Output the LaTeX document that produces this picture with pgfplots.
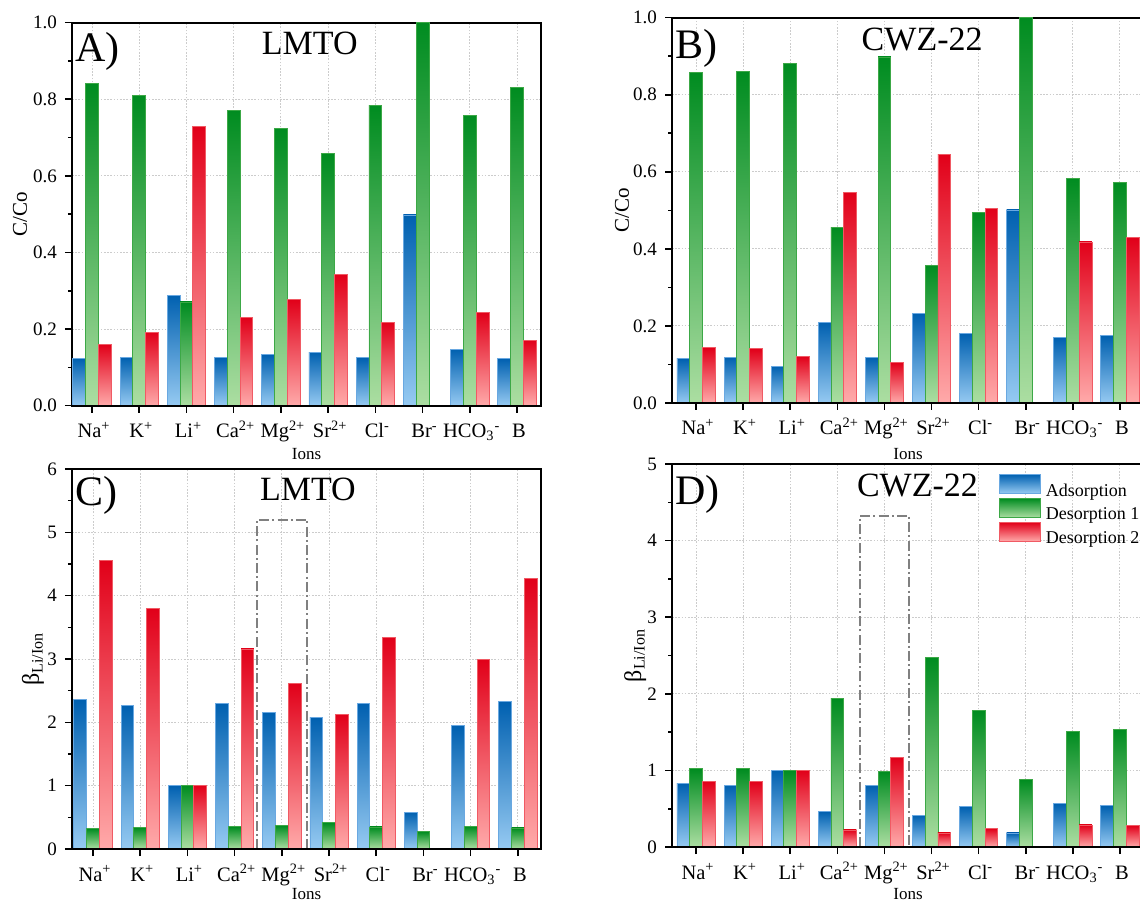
\documentclass[border=0pt]{standalone}
\usepackage{pgfplots}
\pgfplotsset{compat=1.18}
\usepackage{pgfplotstable}
\usepackage{fontspec}
\setmainfont{Liberation Serif}

% bar colours: dark at the top, light at the foot
\definecolor{adsTop}{RGB}{0,96,176}
\definecolor{adsBot}{RGB}{150,202,242}
\definecolor{adsEdge}{RGB}{105,168,225}
\definecolor{dOneTop}{RGB}{0,140,32}
\definecolor{dOneBot}{RGB}{172,222,162}
\definecolor{dOneEdge}{RGB}{60,168,70}
\definecolor{dTwoTop}{RGB}{225,0,25}
\definecolor{dTwoBot}{RGB}{255,170,170}
\definecolor{dTwoEdge}{RGB}{240,90,100}

% C/Co, LMTO
\pgfplotstableread{
x ads des1 des2
0 0.123 0.841 0.160
1 0.127 0.810 0.192
2 0.289 0.271 0.730
3 0.125 0.771 0.230
4 0.134 0.723 0.278
5 0.140 0.659 0.343
6 0.125 0.783 0.218
7 0.498 1.000 nan
8 0.148 0.758 0.243
9 0.123 0.830 0.171
}\tabA
% C/Co, CWZ-22
\pgfplotstableread{
x ads des1 des2
0 0.115 0.859 0.143
1 0.119 0.861 0.141
2 0.096 0.881 0.121
3 0.210 0.456 0.546
4 0.118 0.898 0.105
5 0.232 0.357 0.645
6 0.181 0.495 0.506
7 0.501 1.000 nan
8 0.169 0.583 0.418
9 0.175 0.573 0.429
}\tabB
% beta Li/Ion, LMTO
\pgfplotstableread{
x ads des1 des2
0 2.356 0.327 4.56
1 2.267 0.337 3.80
2 1.0 1.0 1.0
3 2.298 0.353 3.158
4 2.151 0.374 2.615
5 2.077 0.416 2.13
6 2.298 0.348 3.337
7 0.58 0.274 nan
8 1.95 0.358 2.994
9 2.325 0.332 4.27
}\tabC
% beta Li/Ion, CWZ-22
\pgfplotstableread{
x ads des1 des2
0 0.83 1.022 0.852
1 0.808 1.022 0.86
2 1.0 1.0 1.0
3 0.459 1.934 0.223
4 0.808 0.983 1.166
5 0.415 2.472 0.183
6 0.528 1.777 0.24
7 0.183 0.878 nan
8 0.568 1.507 0.288
9 0.541 1.537 0.28
}\tabD

\tikzset{
  hilite/.style={gray, line width=1pt, dash pattern=on 5pt off 1.6pt on 1pt off 1.6pt},
  panelmark/.style={anchor=base west, inner sep=0pt, font=\fontsize{21}{21}\selectfont},
  paneltitle/.style={anchor=base, inner sep=0pt, font=\fontsize{17}{17}\selectfont},
}

\pgfplotsset{
  barleg/.style={legend image code/.code={\draw[##1] (0pt,-1pt) rectangle (20.5pt,8.5pt);}},
  adsbar/.style={ybar, bar width=0.27, bar shift=-0.27, draw=adsEdge, line width=0.4pt,
    top color=adsTop, bottom color=adsBot, barleg},
  donebar/.style={ybar, bar width=0.27, bar shift=0, draw=dOneEdge, line width=0.4pt,
    top color=dOneTop, bottom color=dOneBot, barleg},
  dtwobar/.style={ybar, bar width=0.27, bar shift=0.27, draw=dTwoEdge, line width=0.4pt,
    top color=dTwoTop, bottom color=dTwoBot, barleg},
  ions/.style={
    scale only axis, anchor=south west,
    ymin=0,
    xtick={0,...,9},
    xticklabels={Na\textsuperscript{+},K\textsuperscript{+},Li\textsuperscript{+},Ca\textsuperscript{2+},Mg\textsuperscript{2+},Sr\textsuperscript{2+},Cl\textsuperscript{-},Br\textsuperscript{-},HCO\textsubscript{3}\textsuperscript{-},B},
    xlabel={Ions},
    tick align=outside, tick pos=left,
    minor y tick num=1,
    major tick length=3.5pt, minor tick length=2pt,
    every tick/.style={black, line width=0.8pt},
    axis line style={line width=1pt},
    grid=major,
    grid style={gray!40, line width=0.5pt, dash pattern=on 0.8pt off 0.8pt},
    /pgf/number format/assume math mode=true,
    yticklabel style={font=\fontsize{9.5}{11}\selectfont, xshift=-0.5pt},
    xticklabel style={font=\fontsize{10.25}{12}\selectfont, anchor=base, yshift=-12.5pt, xshift=1pt},
    xlabel style={font=\fontsize{8.5}{10}\selectfont, anchor=center},
    ylabel style={font=\fontsize{10.5}{12}\selectfont, anchor=center},
    clip mode=individual,
  },
}

% one path per bar, so that every bar carries its own top-to-foot gradient
\newcommand{\ionbars}[1]{%
  \pgfplotsinvokeforeach{0,...,9}{%
    \addplot[adsbar, restrict x to domain=##1:##1] table[x=x,y=ads]{#1};
    \addplot[donebar, restrict x to domain=##1:##1] table[x=x,y=des1]{#1};
    \addplot[dtwobar, restrict x to domain=##1:##1] table[x=x,y=des2]{#1};
  }%
}

\begin{document}
\begin{tikzpicture}
% A) C/Co for LMTO
\begin{axis}[ions, at={(36pt,247.15pt)}, width=234.5pt, height=191.5pt,
  xmin=-0.424, xmax=9.508, ymax=1,
  ytick={0,0.2,0.4,0.6,0.8,1.0},
  yticklabel style={/pgf/number format/fixed, /pgf/number format/fixed zerofill, /pgf/number format/precision=1},
  ylabel={C/Co},
  xlabel style={at={(axis description cs:0.5,-0.126)}},
  ylabel style={at={(axis description cs:-0.111,0.5)}}]
\ionbars{\tabA}
\draw[line width=1pt] (rel axis cs:0,0) -- (rel axis cs:1,0);
\node[panelmark] at (rel axis cs:0.006,0.898) {A)};
\node[paneltitle] at (rel axis cs:0.507,0.918) {LMTO};
\end{axis}

% B) C/Co for CWZ-22
\begin{axis}[ions, at={(336pt,248.5pt)}, width=236pt, height=192.65pt,
  xmin=-0.51, xmax=9.51, ymax=1,
  ytick={0,0.2,0.4,0.6,0.8,1.0},
  yticklabel style={/pgf/number format/fixed, /pgf/number format/fixed zerofill, /pgf/number format/precision=1},
  ylabel={C/Co},
  xlabel style={at={(axis description cs:0.5,-0.132)}},
  ylabel style={at={(axis description cs:-0.106,0.5)}}]
\ionbars{\tabB}
\draw[line width=1pt] (rel axis cs:0,0) -- (rel axis cs:1,0);
\node[panelmark] at (rel axis cs:0.006,0.895) {B)};
\node[paneltitle] at (rel axis cs:0.53,0.914) {CWZ-22};
\end{axis}

% C) selectivity for LMTO
\begin{axis}[ions, at={(36pt,25.5pt)}, width=234.5pt, height=190pt,
  xmin=-0.445, xmax=9.49, ymax=6,
  ytick={0,1,2,3,4,5,6},
  ylabel={β\textsubscript{Li/Ion}},
  ylabel style={font=\fontsize{12}{14}\selectfont},
  xlabel style={at={(axis description cs:0.5,-0.118)}},
  ylabel style={at={(axis description cs:-0.083,0.5)}}]
\ionbars{\tabC}
\draw[hilite] (axis cs:3.48,0) rectangle (axis cs:4.54,5.2);
\draw[line width=1pt] (rel axis cs:0,0) -- (rel axis cs:1,0);
\node[panelmark] at (rel axis cs:0.006,0.905) {C)};
\node[paneltitle] at (rel axis cs:0.503,0.918) {LMTO};
\end{axis}

% D) selectivity for CWZ-22
\begin{axis}[ions, at={(336pt,26.5pt)}, width=236pt, height=191.5pt,
  xmin=-0.51, xmax=9.51, ymax=5,
  ytick={0,1,2,3,4,5},
  ylabel={β\textsubscript{Li/Ion}},
  ylabel style={font=\fontsize{12}{14}\selectfont},
  xlabel style={at={(axis description cs:0.5,-0.122)}},
  ylabel style={at={(axis description cs:-0.078,0.5)}},
  legend cell align=left,
  legend style={at={(rel axis cs:0.693,0.974)}, anchor=north west, draw=none, fill=none,
    inner sep=0pt, outer sep=0pt, row sep=-0.5pt, column sep=2.5pt,
    nodes={inner sep=0pt}, font=\fontsize{9}{11}\selectfont}]
\ionbars{\tabD}
\legend{Adsorption,Desorption 1,Desorption 2}
\draw[hilite] (axis cs:3.48,0) rectangle (axis cs:4.53,4.32);
\draw[line width=1pt] (rel axis cs:0,0) -- (rel axis cs:1,0);
\node[panelmark] at (rel axis cs:0.006,0.893) {D)};
\node[paneltitle] at (rel axis cs:0.52,0.915) {CWZ-22};
\end{axis}

\pgfresetboundingbox
\useasboundingbox (0pt,0pt) rectangle (570pt,450pt);
\end{tikzpicture}
\end{document}
